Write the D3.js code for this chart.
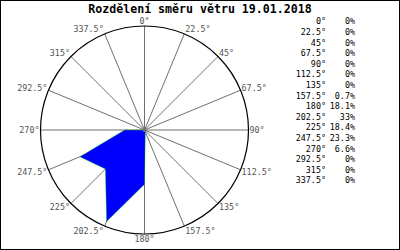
<!DOCTYPE html>
<html>
<head>
<meta charset="utf-8">
<script src="https://cdn.jsdelivr.net/npm/d3@7"></script>
<style>
  body { margin: 0; background: #fff; }
  svg { display: block; }
</style>
</head>
<body>
<svg id="chart" width="400" height="250"></svg>
<script>
  'use strict';

  var title = 'Rozdělení směru větru 19.01.2018';
  var directions = [0, 22.5, 45, 67.5, 90, 112.5, 135, 157.5, 180, 202.5, 225, 247.5, 270, 292.5, 315, 337.5];
  var shares = [0, 0, 0, 0, 0, 0, 0, 0.7, 18.1, 33, 18.4, 23.3, 6.6, 0, 0, 0];

  var width = 400, height = 250;
  var cx = 144.5, cy = 130, radius = 104;
  var font = '"DejaVu Sans Mono", "Liberation Mono", monospace';

  var svg = d3.select('#chart');
  var rad = function(d) { return d * Math.PI / 180; };

  // radial scale for the percentage polygon
  var rScale = d3.scaleLinear()
    .domain([0, d3.max(shares) * 1.05])
    .range([0, radius]);

  svg.append('rect')
    .attr('x', 0.5).attr('y', 0.5)
    .attr('width', width - 1).attr('height', height - 1)
    .attr('fill', '#fff').attr('stroke', '#000');

  svg.append('text')
    .attr('x', width / 2).attr('y', 13)
    .attr('text-anchor', 'middle')
    .attr('font-family', font).attr('font-weight', 'bold')
    .attr('font-size', '11.6px')
    .text(title);

  var g = svg.append('g').attr('transform', 'translate(' + cx + ',' + cy + ')');

  // spokes
  g.selectAll('line.spoke').data(directions).enter().append('line')
    .attr('class', 'spoke')
    .attr('x1', 0).attr('y1', 0)
    .attr('x2', function(d) { return radius * Math.sin(rad(d)); })
    .attr('y2', function(d) { return -radius * Math.cos(rad(d)); })
    .attr('stroke', '#707070').attr('stroke-width', 1);

  g.append('circle')
    .attr('r', radius)
    .attr('fill', 'none').attr('stroke', '#000').attr('stroke-width', 1.2);

  var line = d3.lineRadial()
    .angle(function(d, i) { return rad(directions[i]); })
    .radius(function(d) { return rScale(d); })
    .curve(d3.curveLinearClosed);

  g.append('path')
    .datum(shares)
    .attr('d', line)
    .attr('fill', '#0000ff')
    .attr('stroke', '#00c000').attr('stroke-width', 0.4);

  g.append('circle').attr('r', 2).attr('fill', '#707070');

  // angle labels round the circle
  g.selectAll('text.dir').data(directions).enter().append('text')
    .attr('class', 'dir')
    .attr('x', function(d) {
      var s = Math.sin(rad(d));
      return radius * s + (s > 0.1 ? 1 : s < -0.1 ? -1 : 0);
    })
    .attr('y', function(d) { return -radius * Math.cos(rad(d)) - 5 * Math.cos(rad(d)); })
    .attr('dy', '0.35em')
    .attr('text-anchor', function(d) {
      var s = Math.sin(rad(d));
      return s > 0.1 ? 'start' : s < -0.1 ? 'end' : 'middle';
    })
    .attr('font-family', font).attr('font-size', '8.4px')
    .attr('fill', '#555')
    .text(function(d) { return d + '°'; });

  // legend table
  var fmt = d3.format('.1~f');
  var rowY = d3.scaleLinear().domain([0, directions.length - 1]).range([21.5, 180.5]);
  var rows = svg.selectAll('g.row').data(directions).enter().append('g')
    .attr('class', 'row')
    .attr('transform', function(d, i) { return 'translate(0,' + rowY(i) + ')'; });

  rows.append('text')
    .attr('x', 326).attr('dy', '0.35em')
    .attr('text-anchor', 'end')
    .attr('font-family', font).attr('font-size', '8.4px')
    .text(function(d) { return d + '°'; });

  rows.append('text')
    .attr('x', 355).attr('dy', '0.35em')
    .attr('text-anchor', 'end')
    .attr('font-family', font).attr('font-size', '8.4px')
    .text(function(d, i) { return fmt(shares[i]) + '%'; });
</script>
</body>
</html>
